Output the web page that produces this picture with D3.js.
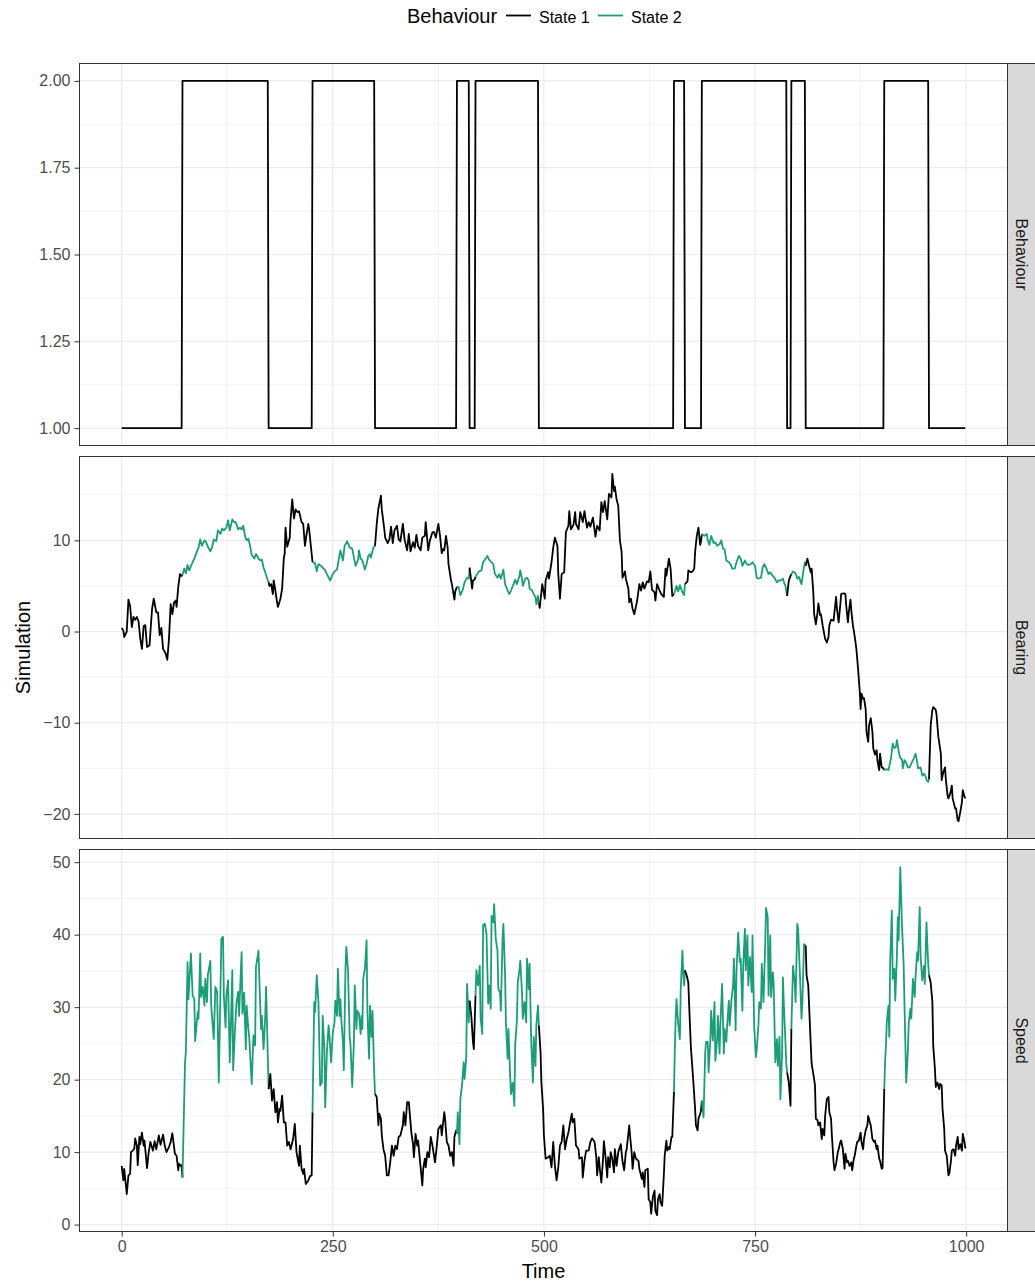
<!DOCTYPE html>
<html>
<head>
<meta charset="utf-8">
<script src="https://cdn.jsdelivr.net/npm/d3@7"></script>
<style>
  body { margin: 0; background: #fff; }
  svg { display: block; }
  text { font-family: "Liberation Sans", Arial, Helvetica, sans-serif; }
</style>
</head>
<body>
<svg id="chart" width="1035" height="1283"></svg>
<script>
// ---------- data ----------
const stateNames = ["State 1", "State 2"];
const stateColours = ["#000000", "#1b9e77"];
// times at which the simulated behaviour flips state (starts in State 1)
const stateSwitchTimes = [72, 174, 226, 300, 397, 412, 419, 494, 654, 667, 687, 788, 793, 810, 903, 956];
const lastTime = 999;

const panelNames = ["Behaviour", "Bearing", "Speed"];
const timeTicks = [0, 250, 500, 750, 1000];
const behaviourTicks = [1, 1.25, 1.5, 1.75, 2];
const bearingTicks = [-20, -10, 0, 10];
const speedTicks = [0, 10, 20, 30, 40, 50];

// [time, bearing]
const bearing = [
 [0,0.4],[2,0.1],[3,-0.6],[6,0],[8,3.5],[10,2.8],[12,0.5],[14,1.6],[16,1.3],[18,1.6],[20,1.1],[22,-0.8],[24,-1.9],[26,0.6],[28,0.7],[30,-1.7],[33,-1.5],[34,-0.1],[36,2.5],[38,3.6],[41,2.1],[43,2.1],[45,-0.4],[47,0.4],[49,-1.9],[52,-2.4],[54,-3.1],[56,-0.8],[58,3.0],[60,1.9],[62,3.2],[64,3.4],[65,2.7],[67,4.9],[69,6.3],[71,6.1],
 [72,6.2],[74,6.9],[76,6.4],[78,7.3],[80,6.7],[83,7.4],[86,8.0],[88,8.5],[91,9.2],[93,10.1],[95,9.4],[98,10.0],[100,9.8],[102,9.3],[105,8.8],[107,9.2],[109,10.1],[112,9.9],[114,11.1],[117,10.7],[119,11.3],[121,11.1],[124,11.4],[126,12.2],[128,11.1],[131,12.3],[133,12.0],[135,12.0],[138,11.2],[140,11.4],[142,11.2],[144,11.6],[146,10.5],[148,10.0],[150,10.2],[152,9.4],[154,8.4],[157,8.0],[159,8.5],[162,8.0],[164,7.8],[166,7.9],[168,7.0],[170,6.5],[172,5.9],
 [174,5.4],[175,5.0],[177,5.2],[179,4.1],[180,5.6],[182,4.5],[184,3.2],[185,2.7],[188,3.6],[190,4.7],[192,8.1],[193,8.5],[194,11.4],[196,9.3],[199,10.3],[200,12.3],[202,14.5],[204,12.4],[206,13.4],[208,13.1],[210,13.2],[213,12.0],[215,11.8],[217,9.4],[219,10.7],[221,11.8],[222,11.2],[224,9.4],
 [226,7.6],[229,7.5],[231,6.6],[233,7.4],[236,7.2],[238,7.0],[241,6.7],[243,6.3],[247,5.6],[249,6.1],[252,6.6],[255,6.8],[257,7.9],[259,8.9],[262,7.8],[264,9.4],[267,9.9],[270,9.2],[273,9.1],[275,8.1],[277,7.2],[280,7.9],[281,8.9],[283,8.0],[285,7.8],[288,6.8],[290,7.4],[292,8.3],[294,8.5],[295,8.1],[298,9.2],
 [300,9.4],[302,11.8],[304,13.5],[307,14.9],[308,13.4],[311,11.2],[312,10.3],[315,9.7],[317,10.1],[319,11.5],[321,9.7],[323,11.1],[326,11.6],[328,10.1],[330,9.9],[333,11.8],[335,10.1],[338,8.9],[340,10.7],[342,8.8],[345,9.8],[347,9.2],[349,10.6],[351,9.4],[354,8.9],[356,10.3],[359,10.5],[360,12.0],[363,8.9],[365,10.0],[368,10.9],[370,10.9],[372,10.3],[375,11.8],[377,10.5],[379,8.6],[381,9.1],[382,8.9],[384,10.5],[386,9.2],[387,7.4],[390,5.6],[391,5.2],[394,3.5],[395,4.4],
 [397,4.9],[399,4.9],[401,4.0],[404,4.6],[406,5.4],[409,5.9],[411,5.8],
 [412,7.0],[415,4.7],[416,5.6],[418,5.7],
 [419,6.0],[421,6.3],[423,6.6],[426,6.7],[428,7.6],[431,8.0],[433,8.3],[435,7.9],[438,7.6],[440,7.4],[442,6.3],[445,5.9],[447,6.3],[449,5.8],[452,6.8],[454,5.2],[457,4.5],[459,4.1],[461,4.5],[464,5.2],[466,5.7],[468,5.2],[471,6.1],[472,6.7],[474,5.8],[475,5.0],[478,5.8],[480,5.9],[482,5.6],[483,4.7],[486,4.5],[488,4.1],[490,3.8],[491,3.0],[493,3.9],
 [494,3.2],[495,2.6],[498,5.2],[499,4.7],[501,3.6],[502,5.6],[505,6.5],[506,5.8],[509,7.6],[511,9.2],[513,10.3],[516,9.4],[517,6.3],[519,3.6],[521,6.3],[524,6.5],[526,10.9],[529,11.6],[530,13.2],[532,11.2],[535,11.7],[537,13.1],[538,11.8],[541,11.2],[543,13.1],[546,12.0],[548,13.2],[551,11.4],[553,12.0],[555,11.5],[558,12.5],[561,10.4],[563,11.6],[566,11.1],[568,14.2],[570,13.1],[572,14.3],[575,12.3],[577,15.1],[580,14.7],[581,17.3],[583,15.4],[584,15.9],[586,14.5],[588,13.8],[590,10.0],[592,8.7],[593,5.9],[596,6.6],[597,5.8],[600,4.7],[601,3.2],[603,3.6],[605,2.5],[607,1.9],[610,3.2],[611,3.8],[613,5.2],[615,4.5],[617,5.4],[619,4.7],[622,5.5],[624,5.4],[626,6.6],[628,4.6],[631,4.3],[632,3.4],[634,5.2],[637,4.5],[639,4.1],[642,3.8],[644,6.9],[645,6.1],[648,8.0],[650,6.9],[652,3.9],
 [654,4.1],[657,5.0],[659,4.4],[661,5.1],[664,4.3],[666,4.0],
 [667,5.2],[670,5.5],[671,6.7],[674,6.5],[676,6.6],[678,6.9],[679,8.7],[681,10.5],[683,11.4],[685,9.5],[686,9.9],
 [687,10.7],[690,10.5],[693,10.7],[694,10.0],[696,9.5],[698,10.5],[701,9.7],[703,9.8],[705,9.4],[708,9.6],[710,10.0],[712,9.1],[714,9.0],[716,7.8],[719,7.6],[721,7.4],[723,6.9],[726,6.9],[728,7.6],[731,8.3],[733,8.0],[735,7.2],[738,7.8],[740,7.4],[742,7.3],[745,7.4],[747,7.6],[750,7.2],[752,5.9],[754,5.8],[757,5.9],[759,7.0],[761,7.4],[764,6.8],[766,6.3],[768,6.5],[771,6.1],[773,5.9],[776,5.4],[778,5.6],[780,5.6],[783,5.8],[785,5.2],[786,5.0],
 [788,3.9],[790,5.6],[792,6.1],
 [793,6.3],[795,6.6],[798,6.4],[800,5.8],[802,6.0],[805,5.2],[807,6.5],[809,7.6],
 [810,7.2],[812,8.0],[814,7.2],[816,6.5],[817,6.9],[819,4.3],[820,1.9],[822,0.8],[824,2.1],[825,3.1],[827,1.8],[828,1.9],[830,0.7],[833,-0.8],[835,-1.2],[837,-0.6],[838,0.7],[840,1.3],[843,1.2],[844,2.1],[846,3.8],[847,2.5],[849,1.0],[851,3.0],[852,4.1],[855,4.2],[857,4.1],[858,2.8],[860,1.0],[861,2.1],[863,3.5],[864,2.3],[866,0.6],[867,0.1],[869,-1.2],[870,-1.9],[872,-4.1],[874,-6.6],[875,-8.5],[876,-6.8],[878,-7.4],[879,-7.3],[881,-8.5],[882,-11.0],[884,-12.1],[885,-10.3],[887,-9.5],[889,-11.0],[890,-12.8],[892,-13.5],[894,-13.0],[895,-14.2],[897,-15.2],[898,-13.4],[900,-14.9],[902,-15.0],
 [903,-15.2],[906,-15.1],[908,-15.2],[911,-13.9],[913,-12.3],[915,-12.8],[917,-12.6],[918,-11.9],[920,-13.1],[922,-13.9],[924,-14.0],[925,-15.0],[927,-14.1],[929,-14.4],[931,-14.9],[933,-14.9],[936,-14.3],[938,-13.9],[940,-13.4],[942,-14.3],[943,-15.0],[946,-14.9],[948,-15.8],[950,-15.6],[952,-15.9],[953,-16.3],[955,-16.5],
 [956,-16.2],[958,-10.3],[960,-8.6],[961,-8.3],[964,-8.6],[965,-9.2],[967,-11.5],[968,-12.1],[970,-13.4],[971,-16.3],[973,-15.4],[975,-14.9],[976,-16.3],[978,-18.0],[979,-18.3],[981,-17.8],[983,-16.9],[984,-18.3],[987,-19.4],[988,-19.4],[990,-20.7],[991,-20.8],[993,-19.8],[995,-18.7],[996,-17.4],[998,-18.1],[999,-18.3]
];

// [time, speed]
const speed = [
 [0,8.1],[2,6.1],[3,7.7],[6,4.2],[8,6.8],[10,7.0],[11,10.0],[13,10.2],[15,10.5],[16,11.9],[18,10.9],[19,8.2],[21,12.1],[22,11.1],[24,12.7],[26,10.9],[27,11.6],[30,7.8],[32,10.0],[34,11.4],[37,10.2],[39,11.5],[41,10.4],[44,12.3],[46,11.0],[49,12.4],[51,10.9],[53,10.0],[56,10.7],[58,11.4],[60,12.6],[63,9.8],[65,9.5],[67,7.5],[68,8.4],[70,8.1],[71,8.2],
 [72,6.5],[75,22.4],[76,23.8],[78,36.2],[79,31.1],[82,37.4],[84,31.6],[86,31.1],[87,25.3],[90,29.3],[91,28.4],[93,37.4],[94,31.4],[96,32.8],[98,30.2],[99,33.9],[101,30.7],[102,34.4],[105,36.4],[106,30.2],[109,25.6],[111,32.8],[113,32.1],[115,19.6],[117,32.5],[118,39.4],[120,39.7],[121,31.6],[123,27.2],[124,31.6],[126,33.7],[128,22.4],[129,26.1],[131,35.1],[132,21.3],[134,26.5],[136,30.7],[138,32.1],[139,28.8],[142,37.6],[143,29.1],[145,32.0],[147,24.2],[148,30.2],[150,27.0],[151,25.9],[154,19.4],[156,26.1],[158,24.7],[159,35.5],[162,37.8],[163,33.9],[165,27.0],[166,28.8],[168,24.2],[170,28.8],[171,32.8],[173,23.3],
 [174,18.7],[176,20.8],[178,17.1],[180,18.7],[182,15.5],[184,16.9],[185,14.1],[187,16.0],[188,15.7],[190,17.8],[192,14.1],[194,14.1],[196,10.9],[198,11.4],[200,10.4],[203,11.8],[205,13.9],[207,10.0],[210,8.1],[211,10.9],[213,7.7],[215,7.0],[216,7.7],[218,5.6],[221,6.1],[223,6.7],[225,6.8],
 [226,15.5],[228,30.7],[229,29.3],[231,34.4],[233,30.7],[235,19.2],[237,19.6],[238,28.8],[240,24.2],[241,16.2],[243,23.8],[245,27.5],[246,26.1],[248,22.4],[250,26.5],[252,27.9],[253,30.9],[255,28.8],[256,35.3],[258,28.8],[259,31.1],[260,28.4],[262,25.2],[263,21.3],[265,35.3],[266,38.3],[268,35.1],[270,25.9],[271,24.7],[273,19.0],[275,25.2],[276,33.0],[278,27.0],[279,29.5],[281,29.1],[283,26.3],[284,28.8],[285,27.0],[286,33.9],[288,35.3],[290,39.2],[291,29.3],[293,22.9],[294,30.2],[296,25.9],[297,29.5],[299,21.0],
 [300,18.0],[302,17.6],[304,13.7],[305,15.3],[307,14.6],[308,12.3],[310,10.4],[312,9.5],[314,6.8],[316,6.8],[318,8.6],[320,10.9],[322,9.5],[324,10.9],[326,10.4],[328,12.1],[330,12.3],[333,13.7],[334,15.5],[336,13.7],[338,16.9],[340,16.9],[342,14.1],[343,12.7],[345,11.1],[346,9.3],[348,12.5],[350,10.9],[351,11.6],[353,9.1],[356,5.4],[357,7.7],[359,9.1],[360,7.9],[362,10.0],[364,9.3],[366,12.1],[368,10.9],[371,8.6],[373,10.7],[375,13.2],[378,13.7],[379,12.3],[382,15.5],[383,14.6],[385,11.4],[387,10.9],[389,9.5],[391,10.0],[393,8.1],[394,12.1],[396,13.0],
 [397,12.5],[398,15.5],[400,11.1],[401,17.3],[403,19.2],[405,22.4],[406,20.1],[408,22.9],[409,33.2],[411,27.9],
 [412,30.9],[414,28.8],[416,25.2],[417,24.2],
 [419,31.6],[420,35.1],[422,33.0],[424,35.7],[425,28.6],[427,26.3],[428,41.3],[430,41.5],[432,40.1],[434,30.5],[435,33.0],[437,29.8],[438,42.6],[440,41.7],[441,44.2],[443,39.4],[445,37.8],[446,32.5],[448,32.1],[449,29.5],[451,39.4],[452,41.5],[454,34.4],[455,27.9],[457,22.9],[458,27.0],[460,20.6],[461,18.0],[463,19.6],[465,16.4],[466,24.9],[468,28.2],[469,33.4],[471,35.1],[472,36.4],[474,32.1],[475,28.4],[477,30.7],[479,27.9],[480,36.7],[482,32.5],[483,36.0],[485,25.2],[487,19.6],[488,25.9],[490,21.9],[491,27.5],[493,30.2],
 [494,27.5],[496,23.8],[497,19.6],[499,16.0],[500,12.3],[502,9.1],[505,9.3],[507,9.5],[509,7.9],[511,11.4],[513,8.1],[515,6.1],[517,7.9],[519,10.9],[521,11.4],[523,13.7],[525,10.4],[527,11.8],[529,12.7],[531,14.1],[533,15.3],[534,14.1],[536,14.6],[538,10.9],[541,10.4],[542,9.1],[545,9.3],[546,6.5],[548,8.8],[550,10.2],[553,10.2],[555,11.4],[557,11.9],[560,11.4],[562,9.3],[563,6.8],[565,9.3],[566,7.9],[568,5.8],[570,9.1],[571,11.5],[573,9.3],[575,6.5],[576,9.3],[578,7.9],[579,10.0],[581,9.1],[583,7.2],[584,10.4],[586,8.1],[588,10.0],[591,11.1],[593,8.8],[595,7.5],[597,10.0],[598,10.4],[601,13.7],[602,12.3],[604,9.8],[605,7.7],[607,10.0],[609,9.1],[612,8.8],[613,7.7],[616,6.3],[617,7.2],[619,5.2],[620,7.5],[623,7.7],[624,3.5],[626,3.1],[627,1.5],[629,3.8],[631,4.7],[632,1.9],[634,1.3],[635,3.5],[637,4.2],[638,3.1],[640,2.6],[642,6.8],[643,9.5],[645,11.6],[646,10.2],[648,10.7],[649,10.4],[651,12.1],[652,12.1],
 [654,18.3],[655,24.2],[656,28.4],[657,31.1],[659,27.7],[661,25.6],[662,32.5],[664,37.8],[665,34.8],[666,33.0],
 [667,35.1],[669,34.4],[671,33.4],[672,30.2],[674,24.5],[675,22.9],[677,19.6],[679,16.0],[680,13.7],[682,13.0],[683,14.6],[685,15.3],[686,15.7],
 [687,17.1],[689,14.8],[691,23.8],[692,25.2],[694,25.2],[695,21.0],[697,25.2],[698,29.5],[700,25.4],[702,30.7],[703,22.6],[705,25.4],[706,28.8],[708,23.6],[709,27.7],[711,33.2],[713,23.6],[714,27.0],[716,25.2],[717,27.5],[719,30.9],[720,27.5],[722,30.9],[724,33.0],[725,36.7],[727,26.8],[728,34.8],[730,40.3],[732,36.2],[733,36.7],[735,29.5],[736,35.7],[738,40.8],[739,35.1],[741,39.9],[742,33.0],[744,36.9],[746,32.1],[747,39.9],[749,27.2],[751,23.1],[752,24.2],[754,27.5],[755,30.7],[757,29.8],[758,36.0],[760,30.7],[762,38.5],[763,43.7],[765,42.4],[766,31.6],[768,39.9],[769,31.4],[771,34.8],[772,33.4],[774,22.4],[776,25.6],[777,21.9],[779,25.9],[780,17.3],[782,23.3],[783,34.1],[784,30.7],[786,25.2],[787,22.2],
 [788,21.0],[790,19.6],[792,16.4],
 [793,27.0],[795,35.7],[797,33.4],[798,30.7],[800,41.5],[801,40.8],[803,35.0],[805,28.4],[806,30.5],[808,38.7],
 [810,38.5],[811,34.4],[813,33.0],[814,30.2],[816,24.7],[817,22.2],[819,20.8],[821,19.2],[822,14.6],[824,14.4],[825,13.7],[827,14.1],[829,11.8],[830,13.2],[832,12.3],[833,15.0],[835,17.3],[837,17.6],[838,15.5],[840,14.6],[841,12.3],[843,8.6],[844,7.5],[846,8.4],[848,10.0],[849,10.4],[851,11.4],[852,11.6],[854,10.4],[856,7.7],[857,9.8],[859,8.6],[860,8.8],[862,8.1],[864,8.6],[865,7.5],[867,9.1],[868,9.5],[870,10.9],[871,11.4],[873,11.6],[875,12.7],[876,11.4],[878,10.4],[879,11.8],[881,13.0],[883,13.7],[884,15.0],[886,14.1],[887,13.7],[889,11.8],[891,11.4],[892,11.6],[894,10.4],[895,10.9],[897,9.1],[898,8.8],[900,7.7],[901,7.8],
 [903,18.7],[904,22.4],[905,24.7],[906,27.9],[908,30.2],[909,25.9],[910,36.2],[912,43.3],[913,33.9],[915,35.3],[916,30.9],[918,37.1],[919,42.4],[920,39.2],[922,49.3],[924,41.3],[926,35.7],[927,30.2],[929,19.6],[931,24.0],[932,27.9],[934,29.8],[935,28.4],[937,33.9],[939,31.4],[940,34.1],[942,37.6],[943,36.4],[945,43.8],[946,37.1],[948,33.7],[950,35.7],[951,33.2],[953,41.7],[955,36.0],
 [956,34.4],[958,33.4],[960,30.7],[961,24.7],[963,21.5],[964,19.0],[966,19.6],[968,18.7],[969,19.4],[971,19.2],[972,16.0],[974,13.2],[975,10.2],[977,9.5],[979,6.8],[980,7.0],[982,8.8],[983,10.2],[985,10.4],[987,9.5],[988,10.9],[990,12.1],[991,10.4],[993,11.1],[995,10.2],[996,12.5],[998,11.4],[999,10.5]
];

// ---------- helpers ----------
function stateAt(t) {
  const flips = stateSwitchTimes.filter(s => s <= t).length;
  return 1 + (flips % 2);
}

// behaviour as a path: value 1 or 2, switching between consecutive time steps
function behaviourPath() {
  const pts = [[0, 1]];
  let cur = 1;
  stateSwitchTimes.forEach(s => {
    const next = cur === 1 ? 2 : 1;
    pts.push([s - 1, cur], [s, next]);
    cur = next;
  });
  pts.push([lastTime, cur]);
  return pts;
}

// group consecutive segments by the state of their starting point
function colourRuns(data) {
  const groups = [];
  for (let i = 0; i < data.length - 1; i++) {
    const s = stateAt(data[i][0]);
    if (!groups.length || groups[groups.length - 1].state !== s) {
      groups.push({ state: s, points: [data[i]] });
    }
    groups[groups.length - 1].points.push(data[i + 1]);
  }
  return groups;
}

// ---------- layout ----------
const svg = d3.select("#chart");
const left = 79.5, right = 1007.5;
const stripW = 27;
const panels = [
  { name: panelNames[0], top: 63.5, bottom: 445.5, domain: [0.95, 2.05], ticks: behaviourTicks, fmt: d3.format(".2f") },
  { name: panelNames[1], top: 456.5, bottom: 838.5, domain: [-22.7, 19.2], ticks: bearingTicks, fmt: d3.format("d") },
  { name: panelNames[2], top: 849.5, bottom: 1231.5, domain: [-0.95, 51.75], ticks: speedTicks, fmt: d3.format("d") }
];

const x = d3.scaleLinear().domain([-49.95, 1048.95]).range([left, right]);
const xMinor = d3.range(0, timeTicks.length - 1).map(i => (timeTicks[i] + timeTicks[i + 1]) / 2);

const grid = "#ebebeb";
const dark = "#333333";

panels.forEach((p, idx) => {
  const y = d3.scaleLinear().domain(p.domain).range([p.bottom, p.top]);
  const g = svg.append("g");

  // background grid
  const yMinor = [];
  const step = p.ticks[1] - p.ticks[0];
  yMinor.push(p.ticks[0] - step / 2);
  p.ticks.forEach(t => yMinor.push(t + step / 2));
  const yMinorIn = yMinor.filter(v => v > p.domain[0] && v < p.domain[1]);

  g.selectAll(".ymin").data(yMinorIn).join("line")
    .attr("x1", left).attr("x2", right)
    .attr("y1", d => y(d)).attr("y2", d => y(d))
    .attr("stroke", grid).attr("stroke-width", 0.6);
  g.selectAll(".xmin").data(xMinor).join("line")
    .attr("x1", d => x(d)).attr("x2", d => x(d))
    .attr("y1", p.top).attr("y2", p.bottom)
    .attr("stroke", grid).attr("stroke-width", 0.6);
  g.selectAll(".ymaj").data(p.ticks).join("line")
    .attr("x1", left).attr("x2", right)
    .attr("y1", d => y(d)).attr("y2", d => y(d))
    .attr("stroke", grid).attr("stroke-width", 1.2);
  g.selectAll(".xmaj").data(timeTicks).join("line")
    .attr("x1", d => x(d)).attr("x2", d => x(d))
    .attr("y1", p.top).attr("y2", p.bottom)
    .attr("stroke", grid).attr("stroke-width", 1.2);

  const line = d3.line().x(d => x(d[0])).y(d => y(d[1]));

  if (idx === 0) {
    g.append("path").datum(behaviourPath())
      .attr("d", line).attr("fill", "none")
      .attr("stroke", stateColours[0]).attr("stroke-width", 1.8)
      .attr("stroke-linejoin", "round");
  } else {
    const series = idx === 1 ? bearing : speed;
    g.selectAll(".run").data(colourRuns(series)).join("path")
      .attr("d", d => line(d.points)).attr("fill", "none")
      .attr("stroke", d => stateColours[d.state - 1]).attr("stroke-width", 1.8)
      .attr("stroke-linejoin", "round");
  }

  // panel border
  g.append("rect").attr("x", left).attr("y", p.top)
    .attr("width", right - left).attr("height", p.bottom - p.top)
    .attr("fill", "none").attr("stroke", dark).attr("stroke-width", 1);

  // facet strip
  g.append("rect").attr("x", right).attr("y", p.top)
    .attr("width", stripW + 1).attr("height", p.bottom - p.top)
    .attr("fill", "#d9d9d9").attr("stroke", dark).attr("stroke-width", 1);
  g.append("text")
    .attr("transform", `translate(${right + stripW / 2 - 5.5},${(p.top + p.bottom) / 2}) rotate(90)`)
    .attr("text-anchor", "middle")
    .attr("font-size", 16).attr("fill", "#1a1a1a")
    .text(p.name);

  // y axis
  const yAxis = g.append("g").attr("transform", `translate(${left},0)`)
    .call(d3.axisLeft(y).tickValues(p.ticks).tickFormat(p.fmt).tickSize(5).tickPadding(4));
  yAxis.select(".domain").remove();
  yAxis.selectAll(".tick line").attr("stroke", dark).attr("stroke-width", 1);
  yAxis.selectAll(".tick text").attr("font-size", 16).attr("fill", "#4d4d4d")
    .attr("font-family", '"Liberation Sans", Arial, sans-serif');
});

// x axis under the bottom panel
const xAxis = svg.append("g").attr("transform", `translate(0,${panels[2].bottom})`)
  .call(d3.axisBottom(x).tickValues(timeTicks).tickFormat(d3.format("d")).tickSize(5).tickPadding(4));
xAxis.select(".domain").remove();
xAxis.selectAll(".tick line").attr("stroke", dark).attr("stroke-width", 1);
xAxis.selectAll(".tick text").attr("font-size", 16).attr("fill", "#4d4d4d")
  .attr("font-family", '"Liberation Sans", Arial, sans-serif');

// axis titles
svg.append("text").attr("x", (left + right) / 2).attr("y", 1278)
  .attr("text-anchor", "middle").attr("font-size", 20).attr("fill", "#000").text("Time");
svg.append("text")
  .attr("transform", `translate(29.5,${(panels[0].top + panels[2].bottom) / 2}) rotate(-90)`)
  .attr("text-anchor", "middle").attr("font-size", 20).attr("fill", "#000").text("Simulation");

// legend
const legend = svg.append("g");
legend.append("text").attr("x", 407).attr("y", 23).attr("font-size", 20).attr("fill", "#000").text("Behaviour");
const keyX = [506, 598];
stateNames.forEach((name, i) => {
  legend.append("line").attr("x1", keyX[i]).attr("x2", keyX[i] + 25)
    .attr("y1", 15.5).attr("y2", 15.5)
    .attr("stroke", stateColours[i]).attr("stroke-width", 1.8);
  legend.append("text").attr("x", keyX[i] + 33).attr("y", 22.5)
    .attr("font-size", 16).attr("fill", "#000").text(name);
});
</script>
</body>
</html>
